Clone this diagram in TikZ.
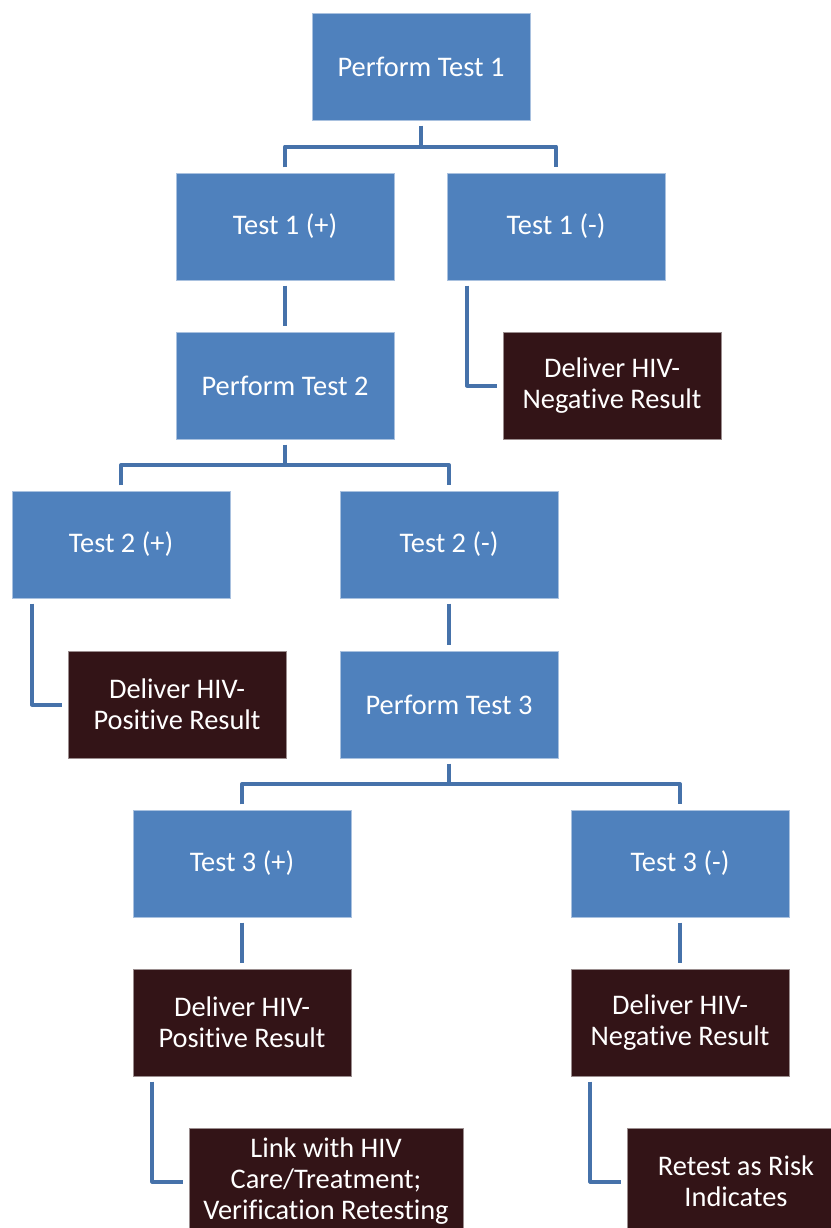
\documentclass[tikz,border=0pt]{standalone}
\usepackage{fontspec}
\setmainfont{Carlito}[Ligatures=NoCommon]
\usetikzlibrary{calc}

\definecolor{boxblue}{HTML}{4F81BD}
\definecolor{boxblueedge}{HTML}{A9C1DF}
\definecolor{boxdark}{HTML}{331417}
\definecolor{boxdarkedge}{HTML}{9A8D8E}
\definecolor{linkblue}{HTML}{4672AA}

\tikzset{
  stepbox/.style={anchor=north west, inner sep=0pt, outer sep=0pt,
    minimum width=163.5pt, minimum height=80.25pt, align=center,
    text=white, font=\fontsize{21.3pt}{23.25pt}\selectfont,
    line width=0.6pt},
  testbox/.style={stepbox, fill=boxblue, draw=boxblueedge},
  resultbox/.style={stepbox, fill=boxdark, draw=boxdarkedge},
  widebox/.style={minimum width=205.5pt},
  conn/.style={draw=linkblue, line width=3pt, line join=round},
}

\begin{document}
\begin{tikzpicture}[x=0.75pt, y=-0.75pt]
  \useasboundingbox (0,0) rectangle (831,1228);
  \clip (0,0) rectangle (831,1228);
  \fill[white] (0,0) rectangle (831,1228);

  % boxes, placed by their top-left corners
  \node[testbox]   (pt1) at (312,13)   {Perform Test 1};
  \node[testbox]   (t1p) at (176,173)  {Test 1 (+)};
  \node[testbox]   (t1n) at (447,173)  {Test 1 (-)};
  \node[testbox]   (pt2) at (176,332)  {Perform Test 2};
  \node[resultbox] (dn1) at (503,332)  {Deliver HIV-\\Negative Result};
  \node[testbox]   (t2p) at (12,491)   {Test 2 (+)};
  \node[testbox]   (t2n) at (340,491)  {Test 2 (-)};
  \node[resultbox] (dp1) at (68,651)   {Deliver HIV-\\Positive Result};
  \node[testbox]   (pt3) at (340,651)  {Perform Test 3};
  \node[testbox]   (t3p) at (133,810)  {Test 3 (+)};
  \node[testbox]   (t3n) at (571,810)  {Test 3 (-)};
  \node[resultbox] (dp2) at (133,969)  {Deliver HIV-\\Positive Result};
  \node[resultbox] (dn2) at (571,969)  {Deliver HIV-\\Negative Result};
  \node[resultbox, widebox] (lnk) at (189,1128) {Link with HIV\\Care/Treatment;\\Verification Retesting};
  \node[resultbox] (rts) at (627,1128) {Retest as Risk\\Indicates};

  \def\gap{4.2pt}

  % branching connectors
  \coordinate (j1) at ($(pt1.south)!0.5!(pt1.south |- t1p.north)$);
  \draw[conn] ([yshift=-\gap]pt1.south) -- (j1);
  \draw[conn] ([yshift=\gap]t1p.north) |- (j1) -| ([yshift=\gap]t1n.north);

  \coordinate (j2) at ($(pt2.south)!0.5!(pt2.south |- t2p.north)$);
  \draw[conn] ([yshift=-\gap]pt2.south) -- (j2);
  \draw[conn] ([yshift=\gap]t2p.north) |- (j2) -| ([yshift=\gap]t2n.north);

  \coordinate (j3) at ($(pt3.south)!0.5!(pt3.south |- t3p.north)$);
  \draw[conn] ([yshift=-\gap]pt3.south) -- (j3);
  \draw[conn] ([yshift=\gap]t3p.north) |- (j3) -| ([yshift=\gap]t3n.north);

  % straight connectors
  \draw[conn] ([yshift=-\gap]t1p.south) -- ([yshift=\gap]pt2.north);
  \draw[conn] ([yshift=-\gap]t2n.south) -- ([yshift=\gap]pt3.north);
  \draw[conn] ([yshift=-\gap]t3p.south) -- ([yshift=\gap]dp2.north);
  \draw[conn] ([yshift=-\gap]t3n.south) -- ([yshift=\gap]dn2.north);

  % elbow connectors to result boxes
  \draw[conn] ([xshift=15pt, yshift=-\gap]t1n.south west) |- ([xshift=-\gap]dn1.west);
  \draw[conn] ([xshift=15pt, yshift=-\gap]t2p.south west) |- ([xshift=-\gap]dp1.west);
  \draw[conn] ([xshift=14.5pt, yshift=-\gap]dp2.south west) |- ([xshift=-\gap]lnk.west);
  \draw[conn] ([xshift=14.5pt, yshift=-\gap]dn2.south west) |- ([xshift=-\gap]rts.west);
\end{tikzpicture}
\end{document}
